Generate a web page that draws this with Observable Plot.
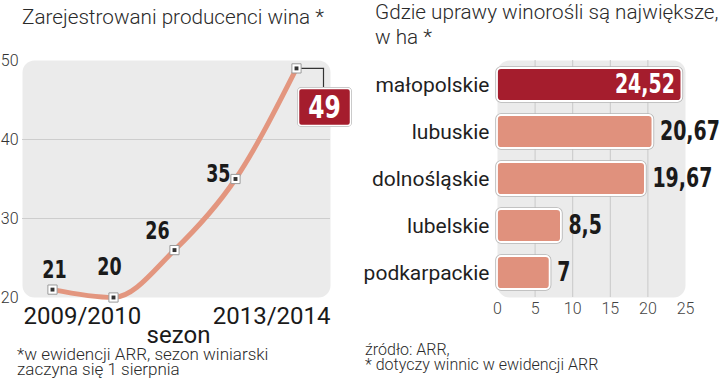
<!DOCTYPE html>
<html>
<head>
<meta charset="utf-8">
<script src="https://cdn.jsdelivr.net/npm/d3@7"></script>
<script src="https://cdn.jsdelivr.net/npm/@observablehq/plot@0.6"></script>
<style>
  html, body { margin: 0; padding: 0; background: #fff; }
  #wrap { position: relative; width: 720px; height: 380px; overflow: hidden; font-family: Roboto, sans-serif; color: #333; }
  .abs { position: absolute; white-space: nowrap; }
  .title { font-size: 20.7px; font-weight: 300; line-height: 25px; color: #2a2a2a; }
  .note { font-weight: 300; line-height: 15px; color: #2a2a2a; }
</style>
</head>
<body>
<div id="wrap">
  <div id="left" class="abs" style="left:0;top:0"></div>
  <div id="right" class="abs" style="left:360px;top:0"></div>
  <div class="abs title" style="left:22px;top:5px">Zarejestrowani producenci wina *</div>
  <div class="abs title" style="left:375px;top:0px">Gdzie uprawy winorośli są największe,<br>w ha *</div>
  <div class="abs note" style="left:17px;top:347px;font-size:17px">*w ewidencji ARR, sezon winiarski<br>zaczyna się 1 sierpnia</div>
  <div class="abs note" style="left:365px;top:342px;font-size:16px">źródło: ARR,<br>* dotyczy winnic w ewidencji ARR</div>
</div>
<script>
// ---- data: left chart
const seasons = ["2009/2010", "2010/2011", "2011/2012", "2012/2013", "2013/2014"];
const producers = [21, 20, 26, 35, 49];
const seasonTickLabels = ["2009/2010", "2013/2014"];
const yTicks = [20, 30, 40, 50];
const xAxisTitle = "sezon";

// ---- data: right chart
const regions = ["małopolskie", "lubuskie", "dolnośląskie", "lubelskie", "podkarpackie"];
const areas = [24.52, 20.67, 19.67, 8.5, 7];
const areaLabels = ["24,52", "20,67", "19,67", "8,5", "7"];
const areaTicks = [0, 5, 10, 15, 20, 25];

const COND = "'DejaVu Sans Condensed', 'DejaVu Sans', sans-serif";
const RED = "#a51d2d";
const SALMON = "#e0917d";

// ---------- left chart ----------
const lineData = seasons.map((s, i) => ({season: s, value: producers[i], label: String(producers[i])}));
const last = lineData[lineData.length - 1];

const labelStyles = [
  {dx: 2, dy: -12, textAnchor: "middle"},
  {dx: -4, dy: -23, textAnchor: "middle"},
  {dx: -17, dy: -11, textAnchor: "middle"},
  {dx: -5, dy: 3, textAnchor: "end"}
];

function roundRect(ctx, x, y, w, h, r) {
  ctx.moveTo(x + r, y);
  ctx.lineTo(x + w - r, y);
  ctx.arcTo(x + w, y, x + w, y + r, r);
  ctx.lineTo(x + w, y + h - r);
  ctx.arcTo(x + w, y + h, x + w - r, y + h, r);
  ctx.lineTo(x + r, y + h);
  ctx.arcTo(x, y + h, x, y + h - r, r);
  ctx.lineTo(x, y + r);
  ctx.arcTo(x, y, x + r, y, r);
  ctx.closePath();
}
const calloutBox = {draw(ctx) { roundRect(ctx, 2, 20, 52, 37, 3); }};
const calloutLink = {draw(ctx) { ctx.moveTo(4, 0); ctx.lineTo(27, 0); ctx.lineTo(27, 20); }};

const left = Plot.plot({
  width: 360,
  height: 345,
  marginLeft: 22,
  marginRight: 30,
  marginTop: 60,
  marginBottom: 48,
  style: {fontFamily: "Roboto, sans-serif", background: "transparent", overflow: "visible"},
  x: {type: "point", domain: seasons, range: [52, 296], padding: 0, axis: null},
  y: {domain: [20, 50], axis: null},
  marks: [
    Plot.frame({fill: "#ebebeb", stroke: "none", rx: 12}),
    Plot.ruleY([30, 40], {stroke: "#cdcdcd", strokeWidth: 1}),
    Plot.axisY(yTicks, {anchor: "left", tickSize: 0, tickPadding: 4, fontSize: 16, fontWeight: 300, fill: "#333", label: null}),
    Plot.line(lineData, {x: "season", y: "value", stroke: "#e3967f", strokeWidth: 5, curve: "monotone-x"}),
    Plot.dot([last], {x: "season", y: "value", symbol: calloutLink, r: 1, fill: "none", stroke: "#333", strokeWidth: 1.2}),
    Plot.dot(lineData, {x: "season", y: "value", symbol: "square", r: 5.2, fill: "#fff", stroke: "#9a9a9a", strokeWidth: 1}),
    Plot.dot(lineData, {x: "season", y: "value", symbol: "square", r: 2.2, fill: "#333", stroke: "none"}),
    ...labelStyles.map((st, i) => Plot.text([lineData[i]], {
      x: "season", y: "value", text: "label", lineAnchor: "bottom", className: "cond",
      fontSize: 24, fontWeight: "bold", fontFamily: COND, fill: "#1a1a1a", ...st
    })),
    Plot.dot([last], {x: "season", y: "value", symbol: calloutBox, r: 1, fill: "none", stroke: "#b9b9b9", strokeWidth: 3}),
    Plot.dot([last], {x: "season", y: "value", symbol: calloutBox, r: 1, fill: RED, stroke: "#fff", strokeWidth: 1.5}),
    Plot.text([last], {x: "season", y: "value", text: "label", dx: 28, dy: 39, lineAnchor: "middle", className: "cond",
      fontSize: 32, fontWeight: "bold", fontFamily: COND, fill: "#fff"}),
    Plot.text([seasonTickLabels[0]], {frameAnchor: "bottom-left", textAnchor: "start", lineAnchor: "bottom", dx: 1, dy: 26, fontSize: 24, fill: "#1a1a1a"}),
    Plot.text([seasonTickLabels[1]], {frameAnchor: "bottom-right", textAnchor: "end", lineAnchor: "bottom", dy: 26, fontSize: 24, fill: "#1a1a1a"}),
    Plot.text([xAxisTitle], {frameAnchor: "bottom", lineAnchor: "bottom", dx: 2, dy: 45, fontSize: 24, fill: "#1a1a1a"})
  ]
});
document.getElementById("left").appendChild(left);

// ---------- right chart ----------
const barData = regions.map((r, i) => ({region: r, area: areas[i], label: areaLabels[i], top: i === 0}));

const right = Plot.plot({
  width: 360,
  height: 325,
  marginLeft: 137,
  marginRight: 35,
  marginTop: 60,
  marginBottom: 28,
  style: {fontFamily: "Roboto, sans-serif", background: "transparent", overflow: "visible"},
  x: {domain: [0, 25], axis: null},
  y: {domain: regions, paddingInner: 0.3, paddingOuter: 0.15, axis: null},
  marks: [
    Plot.frame({fill: "#ebebeb", stroke: "none", rx: 12}),
    Plot.ruleX([5, 10, 15, 20], {stroke: "#c9c9c9", strokeWidth: 1}),
    Plot.axisX(areaTicks, {anchor: "bottom", tickSize: 0, tickPadding: 5, fontSize: 16, fontWeight: 300, fill: "#444", label: null}),
    Plot.axisY({anchor: "left", tickSize: 0, tickPadding: 8, fontSize: 21, fill: "#1f1f1f", label: null}),
    Plot.barX(barData, {x: "area", y: "region", fill: "none", stroke: "#b5b5b5", strokeWidth: 3.5, rx: 4}),
    Plot.barX(barData, {x: "area", y: "region", fill: d => d.top ? RED : SALMON, stroke: "#fff", strokeWidth: 1.8, rx: 4}),
    Plot.text(barData.filter(d => d.top), {x: "area", y: "region", text: "label", textAnchor: "end", dx: -7, className: "cond",
      fontSize: 26, fontWeight: "bold", fontFamily: COND, fill: "#fff"}),
    Plot.text(barData.filter(d => !d.top), {x: "area", y: "region", text: "label", textAnchor: "start", dx: 7, className: "cond",
      fontSize: 26, fontWeight: "bold", fontFamily: COND, fill: "#1a1a1a"})
  ]
});
document.getElementById("right").appendChild(right);

// ---- narrow the bold number labels horizontally (condensed look)
(function condense() {
  const svg = d3.select(right);
  const probe = svg.append("text").attr("font-family", COND).attr("font-weight", "bold")
    .attr("font-size", 26).text("19,67");
  const len = probe.node().getComputedTextLength();
  probe.remove();
  const k = len > 0 ? Math.min(1, 60 / len) : 0.8;
  d3.selectAll("#wrap g.cond text").each(function() {
    const t = d3.select(this);
    const tr = t.attr("transform") || "";
    t.attr("transform", (tr + ` scale(${k},1)`).trim());
  });
})();
</script>
</body>
</html>
